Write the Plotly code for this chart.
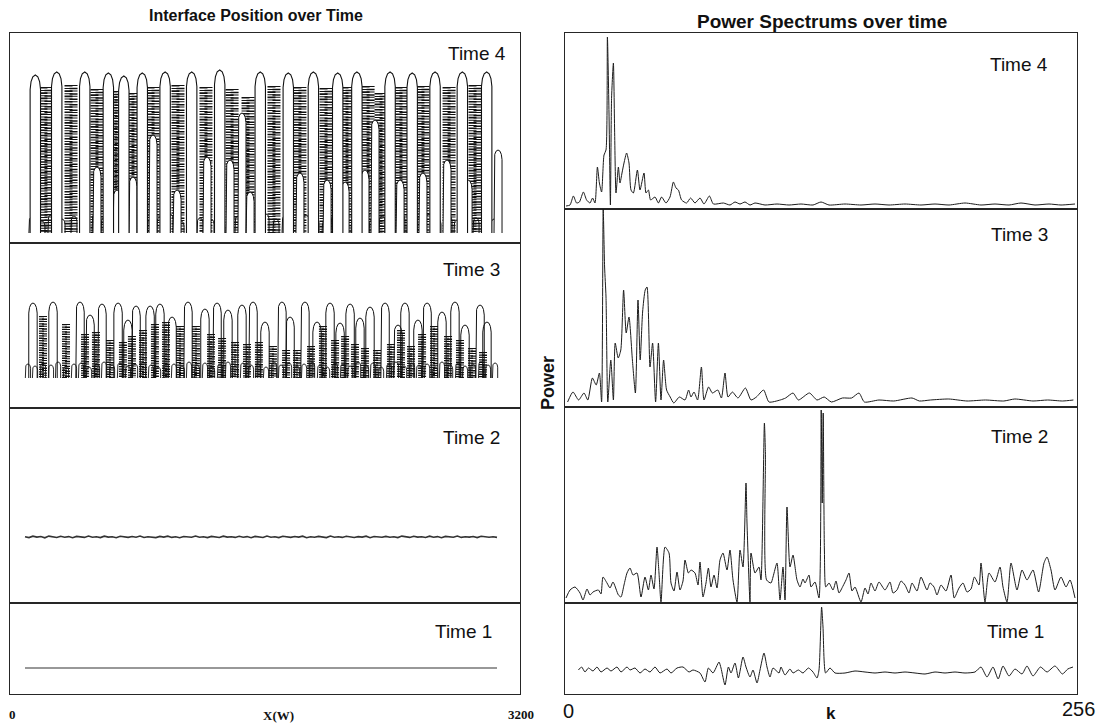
import numpy as np
import plotly.graph_objects as go

# ---------------- Interface position, x in grid cells (0..3200) ----------------
# Time 4: primary fingers (tip x, tip height)
t4_fingers = [(70, 168), (215, 171), (405, 171), (565, 170), (670, 167), (795, 170),
              (950, 171), (1130, 171), (1320, 173), (1595, 171), (1785, 170), (1955, 171),
              (2120, 170), (2250, 171), (2475, 171), (2625, 170), (2780, 171), (2965, 171),
              (3130, 171)]
# Time 4: secondary fingers growing between the primary ones
t4_inner = [(488, 76), (624, 53), (732, 66), (868, 108), (1031, 53), (1234, 86), (1390, 83),
            (1471, 130), (1526, 51), (1864, 70), (2048, 63), (2170, 61), (2305, 73),
            (2373, 123), (2543, 63), (2698, 70), (2861, 83), (3004, 63), (3207, 93)]
# Time 4: small lobes along the root of the front
t4_roots = [(47, 26), (115, 22), (176, 28), (251, 24), (332, 27), (400, 23), (475, 29),
            (536, 25), (597, 22), (651, 27), (719, 24), (773, 28), (848, 23), (915, 26),
            (983, 29), (1058, 22), (1119, 27), (1187, 25), (1261, 24), (1315, 28),
            (1383, 23), (1444, 27), (1505, 26), (1566, 22), (1634, 29), (1702, 24),
            (1763, 27), (1831, 23), (1905, 28), (1973, 25), (2034, 22), (2095, 27),
            (2163, 26), (2231, 24), (2298, 29), (2353, 23), (2421, 27), (2488, 25),
            (2556, 28), (2610, 22), (2671, 26), (2739, 29), (2800, 24), (2875, 27),
            (2929, 23), (2997, 28), (3058, 25), (3119, 26), (3180, 24)]
# Time 4: rough side-branch columns between fingers (x, upper end)
t4_fringe = [(142, 156), (312, 158), (488, 154), (617, 152), (732, 150), (868, 156),
             (1037, 158), (1227, 156), (1404, 154), (1512, 146), (1688, 157), (1864, 156),
             (2041, 155), (2183, 156), (2326, 157), (2414, 150), (2549, 156), (2698, 157),
             (2875, 156), (3051, 158)]

# Time 3: fingers (tip x, tip height)
t3_fingers = [(54, 105), (190, 106), (373, 106), (441, 93), (522, 104), (631, 105), (698, 88),
              (753, 102), (848, 102), (915, 104), (997, 91), (1105, 106), (1220, 99),
              (1302, 105), (1376, 98), (1471, 103), (1546, 106), (1627, 86), (1742, 106),
              (1797, 91), (1898, 106), (1980, 86), (2068, 105), (2136, 85), (2204, 104),
              (2271, 90), (2339, 101), (2441, 105), (2529, 83), (2576, 105), (2664, 88),
              (2726, 105), (2827, 96), (2915, 106), (2983, 83), (3085, 103), (3132, 86)]
t3_fringe = [(122, 92), (278, 84), (407, 74), (481, 76), (576, 68), (664, 66), (725, 72),
             (800, 78), (881, 84), (956, 86), (1051, 82), (1159, 82), (1261, 74), (1336, 70),
             (1424, 66), (1505, 64), (1586, 66), (1681, 62), (1770, 58), (1844, 58),
             (1939, 62), (2020, 82), (2102, 68), (2170, 72), (2237, 64), (2305, 60),
             (2387, 58), (2481, 64), (2549, 78), (2617, 62), (2692, 74), (2773, 82),
             (2868, 72), (2949, 68), (3031, 60), (3105, 56)]
t3_roots = [(20, 44), (68, 42), (122, 45), (176, 43), (224, 46), (278, 42), (332, 44),
            (380, 45), (434, 41), (488, 44), (536, 46), (590, 43), (644, 45), (698, 42),
            (746, 44), (800, 46), (854, 43), (902, 41), (956, 45), (1010, 44), (1064, 42),
            (1112, 46), (1166, 43), (1220, 45), (1268, 41), (1322, 44), (1376, 46),
            (1424, 42), (1478, 45), (1532, 43), (1580, 44), (1634, 41), (1688, 46),
            (1736, 43), (1790, 45), (1844, 42), (1892, 44), (1946, 46), (2000, 43),
            (2048, 41), (2102, 45), (2156, 44), (2204, 42), (2258, 46), (2312, 43),
            (2359, 45), (2414, 41), (2468, 44), (2515, 46), (2570, 42), (2624, 45),
            (2671, 43), (2726, 44), (2780, 41), (2827, 46), (2882, 43), (2936, 45),
            (2983, 42), (3037, 44), (3092, 46), (3139, 43), (3187, 45)]

# Time 2: slightly perturbed front (height along x)
t2_height = [66.2, 65.4, 66.8, 65.9, 66.5, 65.2, 66.9, 66.0, 65.5, 66.7, 65.8, 66.4, 65.3, 66.6,
             66.1, 65.6, 66.9, 65.7, 66.3, 65.4, 66.8, 65.9, 66.2, 65.3, 66.7, 66.0, 65.6, 66.5,
             65.8, 66.9, 65.5, 66.3, 66.0, 65.4, 66.6, 65.9, 66.8, 65.6, 66.2, 65.3, 66.5, 66.0,
             65.7, 66.9, 65.8, 66.3, 65.4, 66.6, 66.1, 65.5, 66.8, 65.9, 66.2, 65.6, 66.7, 65.8,
             66.4, 65.3, 66.6, 66.0, 65.5, 66.9, 65.8, 66.3, 65.4, 66.7, 66.1, 65.6, 66.5, 65.9,
             66.8, 65.3, 66.2, 65.7, 66.6, 66.0, 65.4, 66.9, 65.8, 66.3, 65.6, 66.7, 66.0, 65.5,
             66.4, 65.9, 66.8, 65.3, 66.5, 66.1, 65.7, 66.6, 65.8, 66.3, 65.4, 66.9, 66.0, 65.6,
             66.7, 65.9, 66.2, 65.5, 66.8, 65.8, 66.4, 65.3, 66.6, 66.0, 65.7, 66.9, 65.6, 66.3,
             65.9, 66.5, 65.4, 66.7, 66.1, 65.8, 66.2, 65.6]
# Time 1: flat initial front
t1_height = [26, 26, 26, 26, 26]

# ---------------- Power spectra (k, power) ----------------
spec4 = [(0.5, 1), (2.5, 2), (4.2, 11), (5.8, 4), (7.2, 5), (9.2, 15), (10.8, 7), (12.5, 4),
         (13.8, 9), (15, 4), (16.2, 40), (17.2, 24), (18.3, 15), (19.5, 52), (20.5, 57),
         (21.2, 170), (22, 94), (22.7, 2), (23.3, 110), (24.2, 144), (24.8, 77), (25.5, 14),
         (26.7, 40), (27.5, 24), (28.5, 34), (29.5, 44), (30.8, 54), (32, 44), (33, 17),
         (34.2, 14), (36.2, 37), (37.5, 17), (39.5, 34), (40.5, 14), (41.7, 17), (42.8, 7),
         (45, 10), (46.7, 4), (48.3, 10), (50.5, 4), (52.5, 10), (54.2, 25), (55.5, 19),
         (56.7, 17), (58.3, 7), (60.8, 4), (62.8, 9), (65, 4), (67.5, 9), (69.5, 3),
         (72.2, 11), (74.2, 3), (79.2, 4), (82.5, 2), (85, 5), (87.5, 3), (90, 5), (92.5, 2),
         (95, 4), (100, 2), (106, 3), (112, 2), (118, 3), (124, 2), (128, 5), (132, 2),
         (140, 3), (148, 2), (155, 3), (162, 2), (170, 3), (178, 2), (185, 3), (192, 2),
         (200, 4), (208, 2), (215, 3), (222, 2), (228, 4), (235, 2), (242, 3), (248, 2),
         (255, 3)]
spec3 = [(1.3, 2), (4, 12), (6.8, 4), (9.5, 11), (11.4, 4), (13.7, 26), (15.6, 19), (17.2, 31),
         (18.3, 2), (19.1, 195), (19.8, 137), (20.5, 107), (21.4, 2), (22.9, 44), (24.2, 4),
         (25.1, 61), (26.6, 46), (27.9, 54), (29.3, 114), (30.6, 71), (32, 87), (33.7, 44),
         (35.2, 11), (36.5, 104), (37.6, 44), (38.8, 92), (40.1, 114), (41, 117), (42.5, 37),
         (43.8, 61), (45.3, 2), (46.7, 61), (48, 4), (49.3, 44), (50.8, 14), (52.6, 7),
         (54.4, 1), (57.2, 7), (60, 4), (61.8, 14), (63, 7), (64.5, 12), (66.3, 4), (68.2, 37),
         (69.5, 4), (71.8, 17), (73.7, 11), (76.4, 14), (78.2, 6), (80, 31), (81.5, 7),
         (83.7, 12), (86.5, 6), (90.2, 16), (93, 4), (95.7, 7), (99.3, 14), (102, 2),
         (107.6, 4), (110.3, 6), (114, 11), (116.7, 4), (122.2, 11), (126, 4), (129.6, 7),
         (133.2, 2), (138.7, 6), (143.3, 6), (147, 11), (149.7, 2), (157, 4), (164.4, 3),
         (173.5, 6), (177.2, 3), (182.7, 4), (191.9, 5), (201, 3), (210.2, 4), (219.4, 3),
         (224.9, 5), (234, 3), (241.3, 4), (248.7, 3), (254.2, 4)]
spec2 = [(0.5, 5), (2.5, 13), (5, 16), (7.5, 10), (9, 3), (11, 14), (12.5, 8), (14, 11),
         (16.7, 13), (18, 9), (19, 26), (21, 20), (22.5, 15), (24, 21), (26.7, 8), (28, 6),
         (29.5, 18), (31, 30), (32.5, 35), (34, 28), (36, 30), (38, 6), (40, 26), (41.7, 13),
         (43, 28), (44.5, 14), (46, 56), (47, 30), (48, 1), (50, 56), (52, 50), (53, 20),
         (54.5, 12), (56, 31), (57.5, 13), (59, 22), (60, 43), (61.7, 30), (63, 33), (65, 30),
         (66.5, 18), (67.5, 41), (69, 6), (70.5, 20), (71.7, 35), (73, 16), (74.5, 28),
         (76, 15), (77.5, 43), (79, 50), (81, 33), (82.5, 53), (84, 23), (86, 1), (87.5, 53),
         (89, 36), (90.5, 120), (91, 80), (92.5, 1), (93, 50), (95, 30), (97, 36), (98, 23),
         (99.7, 180), (100.2, 150), (100.8, 23), (103, 20), (104, 26), (106, 40), (107.5, 3),
         (109, 36), (110, 3), (111, 96), (112.5, 36), (114, 48), (116, 23), (117.5, 16),
         (119, 24), (120, 20), (122, 28), (123, 16), (125, 21), (127, 5), (128.1, 193),
         (128.6, 100), (129.1, 190), (129.7, 53), (130.4, 16), (132, 20), (134, 13), (135.5, 22),
         (137, 10), (139, 17), (140.5, 23), (142, 30), (143.5, 12), (145, 16), (148, 1),
         (150, 15), (151.5, 9), (153, 20), (155, 12), (157, 21), (160, 13), (162.5, 21),
         (164, 10), (166, 13), (168, 22), (170, 18), (172, 10), (173.5, 20), (176, 12),
         (178, 26), (181, 13), (182.5, 20), (184.5, 16), (186, 8), (188, 18), (190.5, 12),
         (193, 28), (194.6, 5), (197, 15), (199, 20), (201, 11), (203, 14), (204.7, 26),
         (207, 18), (208, 40), (210, 1), (212, 30), (215, 21), (217.5, 36), (219, 16),
         (221, 1), (223, 40), (226, 13), (228.5, 33), (231, 23), (234, 33), (236.8, 11),
         (239.5, 40), (241, 46), (243, 33), (245, 13), (248, 26), (250.5, 16), (252.5, 23),
         (255, 5)]
spec1 = [(6.7, 24), (8.3, 27), (10, 22), (11.7, 26), (14, 23), (16, 27), (18, 22), (21, 26),
         (23, 23), (26, 27), (28, 22), (31, 27), (32.5, 24), (35, 26), (37.5, 21), (40, 25),
         (42.5, 22), (45, 27), (47.5, 21), (51, 25), (53, 21), (56, 26), (59, 27), (62, 22),
         (64, 24), (67.5, 21), (70, 12), (71.7, 26), (74, 21), (77, 32), (78, 26), (80, 9),
         (81.7, 27), (83, 21), (85, 31), (86.7, 16), (89, 37), (90.5, 27), (92.5, 17), (94, 24),
         (96, 11), (97.5, 24), (99.5, 41), (101, 27), (102.5, 17), (104, 26), (107, 21),
         (108, 27), (110, 19), (112.5, 25), (114, 21), (116.7, 24), (119, 21), (121.7, 26),
         (124, 22), (126, 16), (127, 24), (128.3, 87), (129, 67), (130.3, 21), (132.5, 26),
         (135, 21), (140, 21), (145, 23), (150, 22), (155, 21), (160, 22), (165, 21), (170, 22),
         (175, 21), (180, 20), (185, 22), (190, 21), (195, 22), (200, 21), (205, 22), (208, 27),
         (211, 17), (214, 27), (216.6, 15), (219, 28), (222, 18), (225, 25), (228.5, 20),
         (231, 28), (234, 18), (237.7, 27), (241, 22), (245, 28), (248.7, 20), (251.4, 25),
         (254, 27)]

# ---------------- geometry helpers ----------------
W, H = 1100, 724
PX = 472 / 3200.0          # screen pixels per grid cell on the interface plots
INK = "#111111"


def px(x):
    return x / W


def py(y):
    return 1 - y / H


def lobes(items, base, half_px, cap_scale):
    """Outline of rounded finger tips rising from a common base."""
    w = half_px / PX
    xs, ys = [], []
    for c, top in items:
        d = min(cap_scale * half_px, top - base)
        xs += [c - w, c - w, c - 0.82 * w, c - 0.48 * w, c, c + 0.48 * w, c + 0.82 * w,
               c + w, c + w, None]
        ys += [base, top - d, top - 0.45 * d, top - 0.12 * d, top, top - 0.12 * d,
               top - 0.45 * d, top - d, base, None]
    return xs, ys


def columns(items, base, shift_px=0.0):
    """Vertical strokes used to render the rough side branches."""
    s = shift_px / PX
    xs, ys = [], []
    for c, top in items:
        xs += [c + s, c + s, None]
        ys += [top, base, None]
    return xs, ys


fig = go.Figure()

LEFT = (10, 520)
RIGHT = (565, 1077)
left_rows = [(33, 243), (243, 408), (408, 603), (603, 694)]     # Time 4 .. Time 1
right_rows = [(33, 209), (209, 407), (407, 603), (603, 694)]
left_yr = [[0, 210], [0, 165], [0, 195], [0, 91]]
right_yr = [[-2, 174], [-3, 195], [0, 196], [0, 91]]
x_left_range = [(LEFT[0] - 25) / PX, (LEFT[1] - 25) / PX]

axis_style = dict(showline=True, mirror=True, linecolor="#262626", linewidth=1.2,
                  showgrid=False, zeroline=False, showticklabels=False, ticks="")
layout_axes = {}
for i in range(8):
    n = i + 1
    if i < 4:
        top, bot = left_rows[i]
        xd = [px(LEFT[0]), px(LEFT[1])]
        xr = x_left_range
        yr = left_yr[i]
    else:
        top, bot = right_rows[i - 4]
        xd = [px(RIGHT[0]), px(RIGHT[1])]
        xr = [0, 256]
        yr = right_yr[i - 4]
    layout_axes["xaxis%d" % n] = dict(domain=xd, range=xr, anchor="y%d" % n, **axis_style)
    layout_axes["yaxis%d" % n] = dict(domain=[py(bot), py(top)], range=yr,
                                      anchor="x%d" % n, **axis_style)


def add(xs, ys, n, width=1.0, dash=None, fill=None, shape="linear", smoothing=None,
        color=INK):
    line = dict(color=color, width=width, dash=dash, shape=shape)
    if smoothing is not None:
        line["smoothing"] = smoothing
    fig.add_trace(go.Scatter(
        x=xs, y=ys, mode="lines", xaxis="x%d" % n, yaxis="y%d" % n, line=line,
        fill=fill, fillcolor="white" if fill else None,
        hoverinfo="skip", showlegend=False))


# Time 4 interface: ragged side branches, root lobes, then the fingers on top
xs, ys = columns(t4_fringe, 10, -2.5)
add(xs, ys, 1, width=8, dash="1.6px,1.3px,1px,1.4px")
xs, ys = columns(t4_fringe, 10, 2.5)
add(xs, ys, 1, width=8, dash="1px,1.8px,1.5px,1.1px")
xs, ys = lobes(t4_roots, 10, 3.0, 1.7)
add(xs, ys, 1, width=1.0)
xs, ys = lobes(t4_inner, 10, 4.0, 2.4)
add(xs, ys, 1, width=1.0, fill="toself")
xs, ys = lobes(t4_fingers, 10, 5.2, 2.8)
add(xs, ys, 1, width=1.1, fill="toself")

# Time 3 interface
xs, ys = columns(t3_fringe, 30, -1.5)
add(xs, ys, 2, width=5, dash="1.3px,1.1px")
xs, ys = columns(t3_fringe, 30, 1.5)
add(xs, ys, 2, width=5, dash="1px,1.5px,1.4px,1px")
xs, ys = lobes(t3_roots, 30, 2.6, 1.6)
add(xs, ys, 2, width=0.9)
xs, ys = lobes(t3_fingers, 30, 4.2, 2.4)
add(xs, ys, 2, width=1.0)

# Time 2 and Time 1 interfaces
add(list(np.linspace(0, 3200, len(t2_height))), t2_height, 3, width=1.6, color="#333333")
add(list(np.linspace(0, 3200, len(t1_height))), t1_height, 4, width=1.1, color="#333333")

# Spectra
for n, spec in zip([5, 6, 7, 8], [spec4, spec3, spec2, spec1]):
    add([k for k, _ in spec], [p for _, p in spec], n, width=1.0, shape="spline",
        smoothing=0.6, color="#1c1c1c")

SANS = "Liberation Sans, Arial, sans-serif"
SERIF = "Liberation Serif, Times New Roman, serif"
ann = []


def label(text, x, y, size, family=SANS, bold=False, xanchor="center", angle=0):
    t = "<b>%s</b>" % text if bold else text
    ann.append(dict(text=t, x=px(x), y=py(y), xref="paper", yref="paper",
                    xanchor=xanchor, yanchor="middle", showarrow=False, textangle=angle,
                    font=dict(family=family, size=size, color=INK)))


label("Interface Position over Time", 256, 16, 16, bold=True)
label("Power Spectrums over time", 822, 21, 19, bold=True)
for text, x, y in [("Time 4", 508, 53), ("Time 3", 502, 269), ("Time 2", 502, 438),
                   ("Time 1", 494, 631)]:
    label(text, x, y, 19, xanchor="right")
for text, x, y in [("Time 4", 1050, 64), ("Time 3", 1050, 235), ("Time 2", 1050, 436),
                   ("Time 1", 1046, 631)]:
    label(text, x, y, 19, xanchor="right")
label("Power", 548, 383, 18, bold=True, angle=-90)
label("0", 12, 714, 13, family=SERIF, bold=True)
label("X(W)", 278, 715, 13, family=SERIF, bold=True)
label("3200", 521, 714, 13, family=SERIF, bold=True)
label("0", 568, 711, 20)
label("k", 831, 713, 17, bold=True)
label("256", 1078, 709, 20)

fig.update_layout(width=W, height=H, margin=dict(l=0, r=0, t=0, b=0),
                  paper_bgcolor="white", plot_bgcolor="white", annotations=ann,
                  **layout_axes)
fig.write_html("out.html")
